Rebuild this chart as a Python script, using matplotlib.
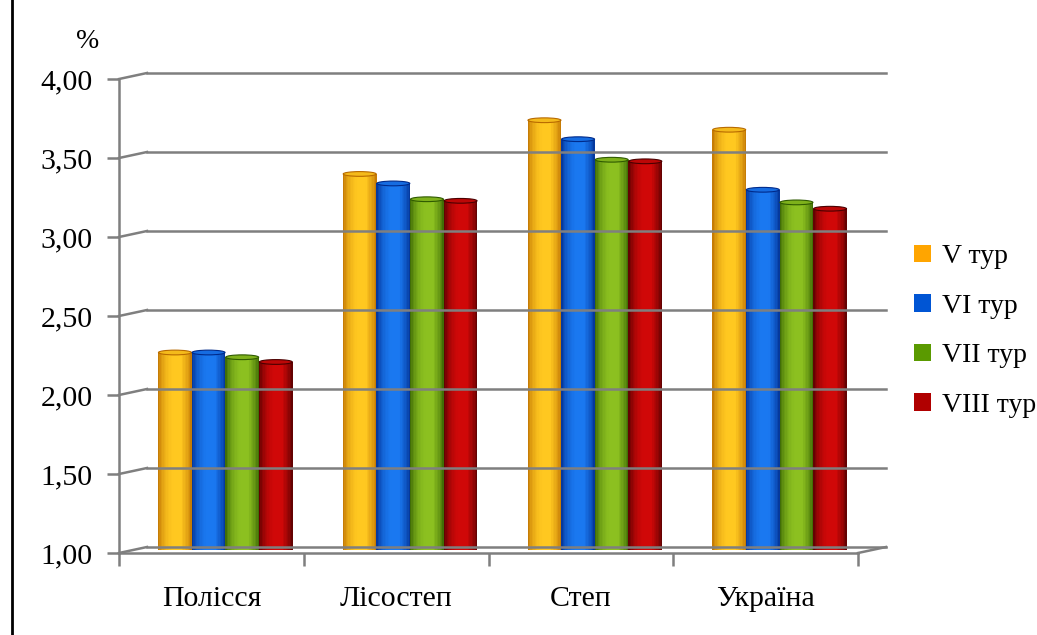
import numpy as np
import matplotlib
matplotlib.use("Agg")
import matplotlib.pyplot as plt
from matplotlib import transforms
from matplotlib.patches import Ellipse, Patch
from matplotlib.colors import to_rgb

plt.rcParams['font.family'] = ['Liberation Serif', 'DejaVu Serif']

# data
regions = ['Полісся', 'Лісостеп', 'Степ', 'Україна']
series = ['V тур', 'VI тур', 'VII тур', 'VIII тур']
v5 = [2.25, 3.38, 3.72, 3.66]
v6 = [2.25, 3.32, 3.60, 3.28]
v7 = [2.22, 3.22, 3.47, 3.20]
v8 = [2.19, 3.21, 3.46, 3.16]
values = [v5, v6, v7, v8]
yticks = [1.0, 1.5, 2.0, 2.5, 3.0, 3.5, 4.0]

# colours: (dark edge, light centre, legend)
shades = [('#b86a00', '#ffc820', '#ffa500'),
          ('#002a8a', '#1a78f0', '#0055d4'),
          ('#2f5a00', '#8cc020', '#5a9a00'),
          ('#4a0000', '#d00808', '#b00000')]

W, H = 1037, 635
fig = plt.figure(figsize=(W / 100, H / 100), dpi=100)
ax = fig.add_axes([119 / W, (H - 553) / H, 739 / W, 474 / H])
ax.set_xlim(-0.5, 3.5)
ax.set_ylim(1, 4)
for s in ax.spines.values():
    s.set_visible(False)

dpi = fig.dpi_scale_trans
back = ax.transData + transforms.ScaledTranslation(28 / 100, 6 / 100, dpi)
mid = ax.transData + transforms.ScaledTranslation(14 / 100, 3 / 100, dpi)

grid_c = '#7f7f7f'
# back wall gridlines and connecting diagonals
for y in yticks:
    ax.plot([-0.5, 3.5], [y, y], color=grid_c, lw=1.8, transform=back, clip_on=False)
    p0 = ax.transData.transform((-0.5, y))
    p1 = back.transform((-0.5, y))
    ax.plot([p0[0], p1[0]], [p0[1], p1[1]], color=grid_c, lw=1.8,
            transform=None, clip_on=False)
# floor front edge and right diagonal
ax.plot([-0.5, 3.5], [1, 1], color=grid_c, lw=1.8, clip_on=False)
q0 = ax.transData.transform((3.5, 1))
q1 = back.transform((3.5, 1))
ax.plot([q0[0], q1[0]], [q0[1], q1[1]], color=grid_c, lw=1.8, transform=None, clip_on=False)
# front vertical axis
ax.plot([-0.5, -0.5], [1, 4], color=grid_c, lw=1.8, clip_on=False)

# bars as shaded cylinders
bw = 0.182
nstrip = 24
t = (np.arange(nstrip) + 0.5) / nstrip
prof = np.clip(np.sin(np.pi * t) ** 0.6 + 0.15 * np.exp(-((t - 0.62) / 0.1) ** 2), 0, 1)
for k, vals in enumerate(values):
    dark, light, _ = shades[k]
    d, l = np.array(to_rgb(dark)), np.array(to_rgb(light))
    for i, v in enumerate(vals):
        xc = i + (k - 1.5) * bw
        xs = xc - bw / 2 + t * bw
        for j in range(nstrip):
            c = d + (l - d) * prof[j]
            ax.bar(xs[j], v - 1, width=bw / nstrip * 1.05, bottom=1, color=c,
                   lw=0, transform=mid, clip_on=False)
        ax.add_patch(Ellipse((xc, v), bw * 0.98, 0.03, facecolor=d + (l - d) * 0.85,
                             edgecolor=dark, lw=0.8, transform=mid, clip_on=False))

# ticks
ax.set_yticks(yticks)
ax.set_yticklabels([f'{y:.2f}'.replace('.', ',') for y in yticks], fontsize=21.5)
ax.tick_params(axis='y', length=9, width=1.8, color=grid_c, pad=10)
ax.set_xticks([-0.5, 0.5, 1.5, 2.5, 3.5])
ax.set_xticklabels([])
ax.set_xticks(range(4), minor=True)
ax.set_xticklabels(regions, minor=True, fontsize=21.5)
ax.tick_params(axis='x', which='major', length=9, width=1.8, color=grid_c)
ax.tick_params(axis='x', which='minor', length=0, pad=24)

fig.text(88 / W, 1 - 42 / H, '%', fontsize=20, ha='center', va='center')

handles = [Patch(facecolor=s[2], edgecolor='none') for s in shades]
fig.legend(handles, series, loc='center left', bbox_to_anchor=(914 / W, 1 - 331 / H),
           frameon=False, fontsize=20, handlelength=0.6, handleheight=0.6,
           handletextpad=0.4, labelspacing=0.88, borderpad=0, borderaxespad=0)

# left border
fig.add_artist(plt.Line2D([12 / W, 12 / W], [0, 1], color='black', lw=2))

fig.savefig('out.png', dpi=100)
